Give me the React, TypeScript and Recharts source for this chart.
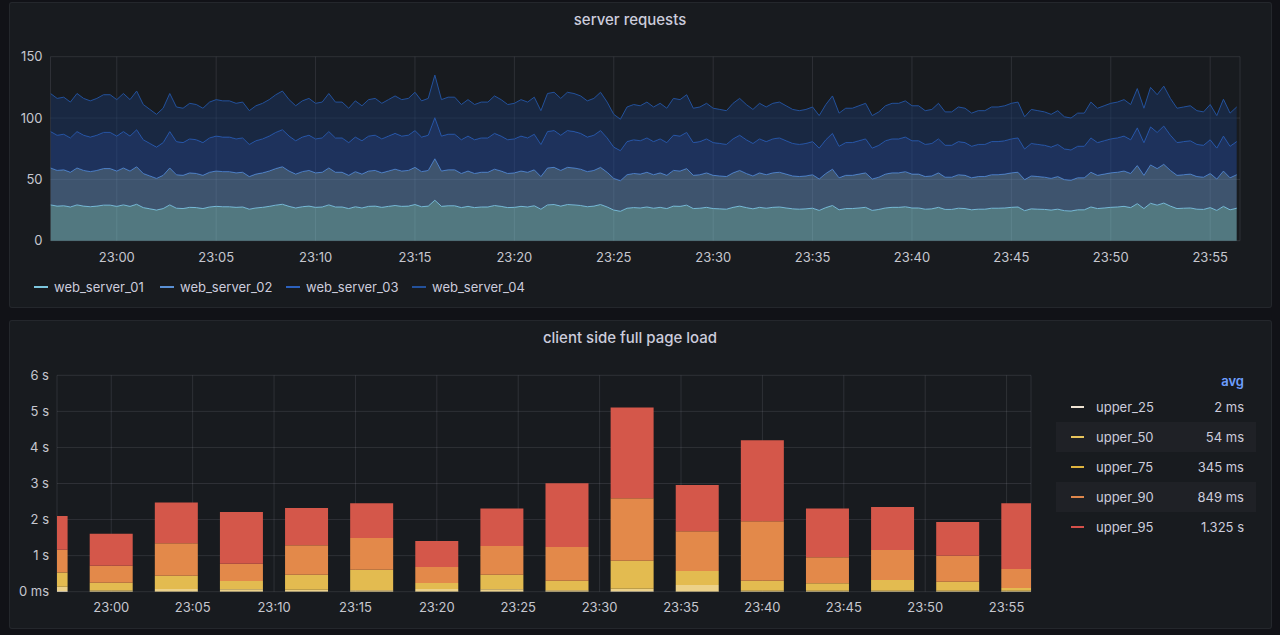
import { Area, AreaChart, Bar, BarChart, CartesianGrid, XAxis, YAxis } from "recharts";

const PAGE_BG = "#111217";
const PANEL_BG = "#181b1f";
const TEXT = "#ccccdc";
const AXIS_TEXT = "#c6c7cf";
const GRID = "rgba(204, 204, 220, 0.12)";
const FONT = "Inter, 'Noto Sans', sans-serif";

// time is in minutes relative to 23:00
const TIME_DOMAIN: [number, number] = [-10 / 3, 56.5];
const tickMinutes = [0, 5, 10, 15, 20, 25, 30, 35, 40, 45, 50, 55];
const requestTicks = [0, 50, 100, 150];
const loadTicks = [0, 1, 2, 3, 4, 5, 6];

// server requests, one sample every 20 s from 22:56:40
const sampleStart = -10 / 3;
const sampleStep = 1 / 3;

const webServer01 = [
  29.2, 28.2, 28.5, 27.5, 29.2, 28.2, 27.7, 28.2, 29.0, 29.0,
  28.0, 29.2, 28.0, 29.7, 27.0, 26.0, 25.0, 26.2, 29.2, 26.5,
  26.2, 27.2, 27.0, 26.2, 27.5, 28.0, 27.7, 27.7, 27.2, 27.5,
  25.7, 26.7, 27.2, 28.0, 29.0, 29.7, 28.0, 26.7, 27.7, 28.2,
  27.2, 27.5, 29.2, 27.5, 27.5, 26.2, 27.7, 26.7, 28.0, 28.2,
  27.2, 28.0, 28.7, 28.0, 28.2, 29.5, 27.7, 28.2, 33.0, 28.0,
  28.5, 28.5, 27.0, 28.0, 27.0, 27.5, 27.5, 28.7, 28.0, 27.0,
  27.2, 28.0, 27.5, 28.5, 25.7, 29.2, 29.5, 28.2, 29.5, 29.2,
  28.7, 27.7, 28.2, 29.5, 27.5, 25.0, 24.0, 26.5, 27.0, 26.7,
  27.5, 26.5, 27.2, 26.2, 28.2, 28.0, 29.0, 26.2, 26.5, 27.2,
  26.2, 26.0, 25.7, 27.2, 28.2, 27.0, 26.0, 27.2, 26.5, 27.2,
  27.5, 26.7, 26.0, 25.7, 26.0, 26.5, 24.7, 27.0, 28.7, 25.2,
  26.2, 26.2, 26.7, 27.2, 24.7, 25.5, 26.7, 27.2, 27.2, 27.7,
  26.7, 26.7, 25.7, 26.0, 27.2, 25.5, 25.5, 26.5, 26.2, 25.2,
  25.7, 25.7, 26.5, 26.5, 26.7, 27.2, 27.5, 24.5, 26.0, 25.7,
  25.5, 25.0, 25.7, 24.5, 24.2, 25.2, 25.2, 27.5, 26.2, 26.7,
  27.2, 27.5, 28.0, 27.0, 30.2, 26.2, 30.5, 29.0, 30.7, 28.2,
  26.2, 26.5, 26.7, 25.7, 25.5, 27.0, 24.7, 28.0, 25.2, 26.5,
];

const webServer02 = [
  30.1, 29.1, 29.3, 28.3, 30.1, 29.1, 28.6, 29.1, 29.8, 29.8,
  28.8, 30.1, 28.8, 30.6, 27.8, 26.8, 25.8, 27.1, 30.1, 27.3,
  27.1, 28.1, 27.8, 27.1, 28.3, 28.8, 28.6, 28.6, 28.1, 28.3,
  26.6, 27.6, 28.1, 28.8, 29.8, 30.6, 28.8, 27.6, 28.6, 29.1,
  28.1, 28.3, 30.1, 28.3, 28.3, 27.1, 28.6, 27.6, 28.8, 29.1,
  28.1, 28.8, 29.6, 28.8, 29.1, 30.3, 28.6, 29.1, 33.8, 28.8,
  29.3, 29.3, 27.8, 28.8, 27.8, 28.3, 28.3, 29.6, 28.8, 27.8,
  28.1, 28.8, 28.3, 29.3, 26.6, 30.1, 30.3, 29.1, 30.3, 30.1,
  29.6, 28.6, 29.1, 30.3, 28.3, 25.8, 24.9, 27.3, 27.8, 27.6,
  28.3, 27.3, 28.1, 27.1, 29.1, 28.8, 29.8, 27.1, 27.3, 28.1,
  27.1, 26.8, 26.6, 28.1, 29.1, 27.8, 26.8, 28.1, 27.3, 28.1,
  28.3, 27.6, 26.8, 26.6, 26.8, 27.3, 25.6, 27.8, 29.6, 26.1,
  27.1, 27.1, 27.6, 28.1, 25.6, 26.3, 27.6, 28.1, 28.1, 28.6,
  27.6, 27.6, 26.6, 26.8, 28.1, 26.3, 26.3, 27.3, 27.1, 26.1,
  26.6, 26.6, 27.3, 27.3, 27.6, 28.1, 28.3, 25.3, 26.8, 26.6,
  26.3, 25.8, 26.6, 25.3, 25.1, 26.1, 26.1, 28.3, 27.1, 27.6,
  28.1, 28.3, 28.8, 27.8, 31.1, 27.1, 31.3, 29.8, 31.6, 29.1,
  27.1, 27.3, 27.6, 26.6, 26.3, 27.8, 25.6, 28.8, 26.1, 27.3,
];

const webServer03 = [
  29.7, 28.7, 29.0, 28.0, 29.7, 28.7, 28.2, 28.7, 29.5, 29.5,
  28.5, 29.7, 28.5, 30.2, 27.5, 26.5, 25.5, 26.7, 29.7, 27.0,
  26.7, 27.7, 27.5, 26.7, 28.0, 28.5, 28.2, 28.2, 27.7, 28.0,
  26.2, 27.2, 27.7, 28.5, 29.5, 30.2, 28.5, 27.2, 28.2, 28.7,
  27.7, 28.0, 29.7, 28.0, 28.0, 26.7, 28.2, 27.2, 28.5, 28.7,
  27.7, 28.5, 29.2, 28.5, 28.7, 30.0, 28.2, 28.7, 33.5, 28.5,
  29.0, 29.0, 27.5, 28.5, 27.5, 28.0, 28.0, 29.2, 28.5, 27.5,
  27.7, 28.5, 28.0, 29.0, 26.2, 29.7, 30.0, 28.7, 30.0, 29.7,
  29.2, 28.2, 28.7, 30.0, 28.0, 25.5, 24.5, 27.0, 27.5, 27.2,
  28.0, 27.0, 27.7, 26.7, 28.7, 28.5, 29.5, 26.7, 27.0, 27.7,
  26.7, 26.5, 26.2, 27.7, 28.7, 27.5, 26.5, 27.7, 27.0, 27.7,
  28.0, 27.2, 26.5, 26.2, 26.5, 27.0, 25.2, 27.5, 29.2, 25.7,
  26.7, 26.7, 27.2, 27.7, 25.2, 26.0, 27.2, 27.7, 27.7, 28.2,
  27.2, 27.2, 26.2, 26.5, 27.7, 26.0, 26.0, 27.0, 26.7, 25.7,
  26.2, 26.2, 27.0, 27.0, 27.2, 27.7, 28.0, 25.0, 26.5, 26.2,
  26.0, 25.5, 26.2, 25.0, 24.7, 25.7, 25.7, 28.0, 26.7, 27.2,
  27.7, 28.0, 28.5, 27.5, 30.7, 26.7, 31.0, 29.5, 31.2, 28.7,
  26.7, 27.0, 27.2, 26.2, 26.0, 27.5, 25.2, 28.5, 25.7, 27.0,
];

const webServer04 = [
  31.0, 30.0, 30.2, 29.2, 31.0, 30.0, 29.5, 30.0, 30.7, 30.7,
  29.7, 31.0, 29.7, 31.5, 28.7, 27.7, 26.7, 28.0, 31.0, 28.2,
  28.0, 29.0, 28.7, 28.0, 29.2, 29.7, 29.5, 29.5, 29.0, 29.2,
  27.5, 28.5, 29.0, 29.7, 30.7, 31.5, 29.7, 28.5, 29.5, 30.0,
  29.0, 29.2, 31.0, 29.2, 29.2, 28.0, 29.5, 28.5, 29.7, 30.0,
  29.0, 29.7, 30.5, 29.7, 30.0, 31.2, 29.5, 30.0, 34.7, 29.7,
  30.2, 30.2, 28.7, 29.7, 28.7, 29.2, 29.2, 30.5, 29.7, 28.7,
  29.0, 29.7, 29.2, 30.2, 27.5, 31.0, 31.2, 30.0, 31.2, 31.0,
  30.5, 29.5, 30.0, 31.2, 29.2, 26.7, 25.6, 28.2, 28.7, 28.5,
  29.2, 28.2, 29.0, 28.0, 30.0, 29.7, 30.7, 28.0, 28.2, 29.0,
  28.0, 27.7, 27.5, 29.0, 30.0, 28.7, 27.7, 29.0, 28.2, 29.0,
  29.2, 28.5, 27.7, 27.5, 27.7, 28.2, 26.5, 28.7, 30.5, 27.0,
  28.0, 28.0, 28.5, 29.0, 26.5, 27.2, 28.5, 29.0, 29.0, 29.5,
  28.5, 28.5, 27.5, 27.7, 29.0, 27.2, 27.2, 28.2, 28.0, 27.0,
  27.5, 27.5, 28.2, 28.2, 28.5, 29.0, 29.2, 26.2, 27.7, 27.5,
  27.2, 26.7, 27.5, 26.2, 26.0, 27.0, 27.0, 29.2, 28.0, 28.5,
  29.0, 29.2, 29.7, 28.7, 32.0, 28.0, 32.2, 30.7, 32.5, 30.0,
  28.0, 28.2, 28.5, 27.5, 27.2, 28.7, 26.5, 30.0, 27.0, 28.2,
];

const serverNames = ["web_server_01", "web_server_02", "web_server_03", "web_server_04"];
const serverLines = ["#7cc6de", "#5a90d4", "#2c61bd", "#23519b"];
const serverFills = ["#8cd5e1", "#648dbd", "#244999", "#1a3565"];

// client side full page load, one bar every 4 minutes (seconds, stacked)
const barMinutes = [-4, 0, 4, 8, 12, 16, 20, 24, 28, 32, 36, 40, 44, 48, 52, 56];
const upper25 = [0.02, 0.005, 0.005, 0.005, 0.005, 0.005, 0.005, 0.005, 0.005, 0.01, 0.005, 0.005, 0.005, 0.005, 0.005, 0.005];
const upper50 = [0.12, 0.03, 0.07, 0.06, 0.05, 0.032, 0.07, 0.06, 0.032, 0.07, 0.18, 0.02, 0.02, 0.02, 0.02, 0.02];
const upper75 = [0.39, 0.215, 0.37, 0.23, 0.416, 0.573, 0.166, 0.406, 0.268, 0.78, 0.388, 0.28, 0.206, 0.298, 0.252, 0.075];
const upper90 = [0.63, 0.47, 0.895, 0.48, 0.814, 0.878, 0.444, 0.795, 0.933, 1.728, 1.1, 1.645, 0.721, 0.832, 0.721, 0.528];
const upper95 = [0.94, 0.89, 1.13, 1.435, 1.035, 0.962, 0.72, 1.044, 1.772, 2.522, 1.285, 2.246, 1.358, 1.192, 0.934, 1.822];

const loadNames = ["upper_25", "upper_50", "upper_75", "upper_90", "upper_95"];
const loadKeys = ["u25", "u50", "u75", "u90", "u95"];
const loadFills = ["#f3e6c9", "#ecd189", "#e3bb50", "#e3894a", "#d4574a"];
const loadLegend = ["#efe3d3", "#e9c55c", "#e0b43e", "#e0874c", "#d6504a"];
const loadAvg = ["2 ms", "54 ms", "345 ms", "849 ms", "1.325 s"];

const requestData = webServer01.map((v, i) => ({
  t: sampleStart + i * sampleStep,
  s1: v,
  s2: webServer02[i],
  s3: webServer03[i],
  s4: webServer04[i],
}));

const loadData = barMinutes.map((t, i) => ({
  t,
  u25: upper25[i],
  u50: upper50[i],
  u75: upper75[i],
  u90: upper90[i],
  u95: upper95[i],
}));

const clock = (m: number) => `23:${String(m).padStart(2, "0")}`;
const seconds = (v: number) => (v === 0 ? "0 ms" : `${v} s`);

const tickStyle = { fill: AXIS_TEXT, fontSize: 13, fontFamily: FONT };

function Panel({ top, height, title }: { top: number; height: number; title: string }) {
  return (
    <>
      <div
        style={{
          position: "absolute",
          left: 9,
          top,
          width: 1263,
          height,
          background: PANEL_BG,
          border: "1px solid rgba(204, 204, 220, 0.07)",
          borderRadius: 3,
          boxSizing: "border-box",
        }}
      />
      <div
        style={{
          position: "absolute",
          left: 0,
          width: 1260,
          top: top + 9,
          textAlign: "center",
          color: TEXT,
          fontSize: 15,
          fontWeight: 500,
          lineHeight: "18px",
        }}
      >
        {title}
      </div>
    </>
  );
}

export default function App() {
  return (
    <div
      style={{
        position: "absolute",
        left: 0,
        top: 0,
        width: 1280,
        height: 635,
        background: PAGE_BG,
        fontFamily: FONT,
        overflow: "hidden",
      }}
    >
      <Panel top={2} height={306} title="server requests" />
      <Panel top={320} height={309} title="client side full page load" />

      <div style={{ position: "absolute", left: 0, top: 0 }}>
        <AreaChart
          width={1280}
          height={270}
          data={requestData}
          margin={{ top: 56.7, right: 40, bottom: 0, left: 0 }}
        >
          <CartesianGrid stroke={GRID} />
          <XAxis
            dataKey="t"
            type="number"
            domain={TIME_DOMAIN}
            allowDataOverflow
            ticks={tickMinutes}
            tickFormatter={clock}
            tick={tickStyle}
            tickLine={false}
            axisLine={false}
            tickMargin={6}
            height={29.3}
          />
          <YAxis
            domain={[0, 150]}
            ticks={requestTicks}
            tick={tickStyle}
            tickLine={false}
            axisLine={false}
            width={50.5}
          />
          {["s1", "s2", "s3", "s4"].map((key, i) => (
            <Area
              key={key}
              dataKey={key}
              name={serverNames[i]}
              stackId="req"
              type="linear"
              stroke={serverLines[i]}
              strokeWidth={1}
              fill={serverFills[i]}
              fillOpacity={0.5}
              dot={false}
              activeDot={false}
              isAnimationActive={false}
            />
          ))}
        </AreaChart>
      </div>

      {/* top legend */}
      {serverNames.map((name, i) => (
        <div
          key={name}
          style={{
            position: "absolute",
            left: 34 + i * 126,
            top: 278,
            height: 18,
            display: "flex",
            alignItems: "center",
            color: TEXT,
            fontSize: 13,
          }}
        >
          <span style={{ width: 14, height: 2, background: serverLines[i], marginRight: 6 }} />
          {name}
        </div>
      ))}

      <div style={{ position: "absolute", left: 0, top: 330 }}>
        <BarChart
          width={1045}
          height={290}
          data={loadData}
          margin={{ top: 45.3, right: 14, bottom: 0, left: 0 }}
        >
          <CartesianGrid stroke={GRID} />
          <XAxis
            dataKey="t"
            type="number"
            domain={TIME_DOMAIN}
            allowDataOverflow
            ticks={tickMinutes}
            tickFormatter={clock}
            tick={tickStyle}
            tickLine={false}
            axisLine={false}
            tickMargin={5}
            height={28.3}
          />
          <YAxis
            domain={[0, 6]}
            ticks={loadTicks}
            tickFormatter={seconds}
            tick={tickStyle}
            tickLine={false}
            axisLine={false}
            width={57}
          />
          {loadKeys.map((key, i) => (
            <Bar
              key={key}
              dataKey={key}
              name={loadNames[i]}
              stackId="load"
              fill={loadFills[i]}
              barSize={43}
              isAnimationActive={false}
            />
          ))}
        </BarChart>
      </div>

      {/* bottom legend table */}
      <div
        style={{
          position: "absolute",
          left: 1150,
          width: 94,
          top: 372,
          textAlign: "right",
          color: "#6e9fff",
          fontSize: 13,
          fontWeight: 600,
          lineHeight: "18px",
        }}
      >
        avg
      </div>
      {loadNames.map((name, i) => (
        <div
          key={name}
          style={{
            position: "absolute",
            left: 1056,
            top: 392 + i * 30,
            width: 200,
            height: 30,
            background: i % 2 === 1 ? "#1f2126" : "transparent",
            color: TEXT,
            fontSize: 13,
          }}
        >
          <span
            style={{
              position: "absolute",
              left: 15,
              top: 14,
              width: 13,
              height: 2,
              background: loadLegend[i],
            }}
          />
          <span style={{ position: "absolute", left: 40, top: 6, lineHeight: "18px" }}>{name}</span>
          <span
            style={{
              position: "absolute",
              right: 12,
              top: 6,
              lineHeight: "18px",
              textAlign: "right",
            }}
          >
            {loadAvg[i]}
          </span>
        </div>
      ))}
    </div>
  );
}
